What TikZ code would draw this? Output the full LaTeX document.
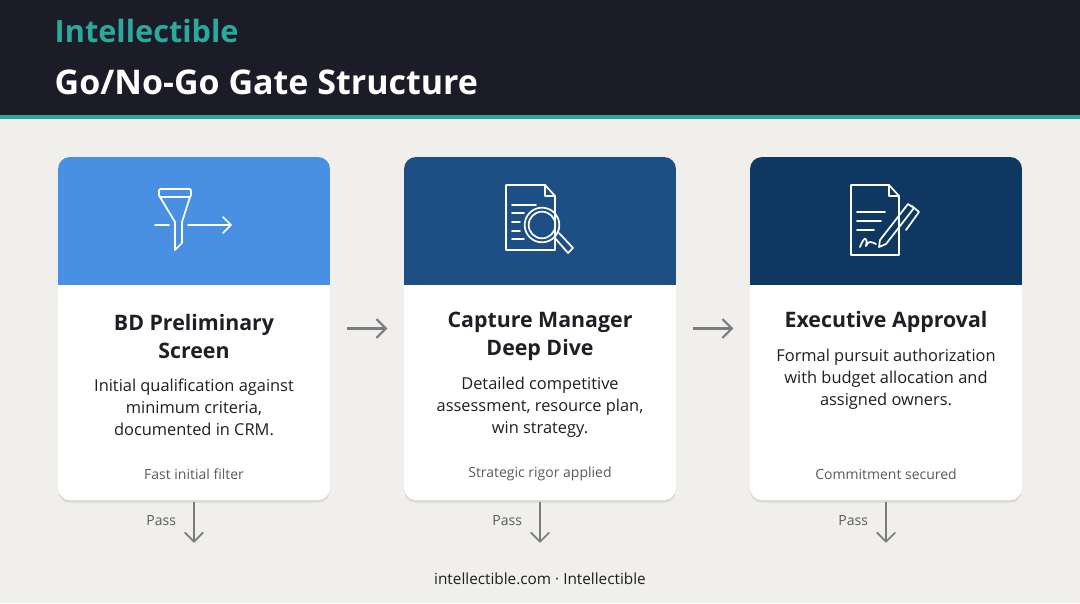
\documentclass[tikz,border=0pt]{standalone}
\usepackage{fontspec}
\setmainfont{Open Sans}
\usetikzlibrary{positioning,arrows.meta,shadows}
\definecolor{bgpaper}{HTML}{F0EFEB}
\definecolor{hdark}{HTML}{1B1C28}
\definecolor{tealc}{HTML}{2BA99A}
\definecolor{cardA}{HTML}{4A90E2}
\definecolor{cardB}{HTML}{1D4F85}
\definecolor{cardC}{HTML}{0E3762}
\definecolor{inkc}{HTML}{1E1E24}
\definecolor{greyc}{HTML}{5A5A60}
\tikzset{
  card/.style={draw=none, fill=white, rounded corners=9pt, minimum width=272*0.75pt,
    minimum height=343*0.75pt, drop shadow={opacity=0.18, shadow xshift=0pt, shadow yshift=-2pt}},
  ttl/.style={font=\bfseries\fontsize{16}{21}\selectfont, text=inkc, align=center},
  desc/.style={font=\fontsize{12.3}{16.5}\selectfont, text=inkc, align=center},
  foot/.style={font=\fontsize{10.5}{13}\selectfont, text=greyc},
  flow/.style={-{Straight Barb[length=7pt,width=14pt]}, line width=1.6pt, draw=greyc!80},
  icon/.style={draw=white, line width=1.3pt, line join=round, line cap=round}
}
\begin{document}
\begin{tikzpicture}[x=0.75pt,y=-0.75pt]
\useasboundingbox (0,0) rectangle (1080,603);
\fill[bgpaper] (0,0) rectangle (1080,603);
\fill[hdark] (0,0) rectangle (1080,115);
\fill[tealc] (0,115) rectangle (1080,119);
\node[anchor=west, text=tealc, font=\bfseries\fontsize{23}{26}\selectfont] (brand) at (50,31) {Intellectible};
\node[anchor=west, text=white, font=\bfseries\fontsize{25.5}{30}\selectfont] (title) at (50,82) {Go/No-Go Gate Structure};

% cards
\foreach \nm/\cx/\col in {screen/194/cardA, dive/540/cardB, approve/886/cardC}{
  \node[card] (\nm) at (\cx,328.5) {};
  \begin{scope}
    \clip[rounded corners=9pt] (\cx-136,157) rectangle (\cx+136,500);
    \fill[\col] (\cx-136,157) rectangle (\cx+136,285);
  \end{scope}
}

% texts
\node[ttl] (screen-t) at (194,336) {BD Preliminary\\Screen};
\node[desc] (screen-d) at (194,407) {Initial qualification against\\minimum criteria,\\documented in CRM.};
\node[foot] (screen-f) at (194,474) {Fast initial filter};
\node[ttl] (dive-t) at (540,336) {Capture Manager\\Deep Dive};
\node[desc] (dive-d) at (540,407) {Detailed competitive\\assessment, resource plan,\\win strategy.};
\node[foot] (dive-f) at (540,474) {Strategic rigor applied};
\node[ttl] (approve-t) at (886,322) {Executive Approval};
\node[desc] (approve-d) at (886,379) {Formal pursuit authorization\\with budget allocation and\\assigned owners.};
\node[foot] (approve-f) at (886,474) {Commitment secured};

% icons
\draw[icon, rounded corners=1pt] (159,189) rectangle (191,197);
\draw[icon] (160,197) -- (175,222) -- (175,250) -- (182,243) -- (182,222) -- (190,197);
\draw[icon] (155,225) -- (169,225) (188,225) -- (231,225) (223,217) -- (231,225) -- (223,233);
\draw[icon] (506,185) -- (545,185) -- (555,196) -- (555,250) -- (506,250) -- cycle;
\draw[icon] (545,185) -- (545,196) -- (555,196);
\draw[icon] (512,205) -- (536,205) (512,213) -- (524,213) (512,222) -- (520,222) (512,231) -- (520,231) (512,239) -- (524,239);
\draw[icon] (542,225) circle (13pt) (542,225) circle (10pt);
\draw[icon] (554,237) -- (568,253) -- (573,248) -- (559,233);
\draw[icon] (851,185) -- (889,185) -- (899,196) -- (899,255) -- (851,255) -- cycle;
\draw[icon] (889,185) -- (889,196) -- (899,196);
\draw[icon] (857,212) -- (885,212) (857,221) -- (881,221) (857,230) -- (874,230);
\draw[icon] (860,247) .. controls (864,236) and (868,236) .. (866,246) .. controls (868,240) and (872,242) .. (876,244);
\draw[icon] (880,240) -- (908,204) -- (914,208) -- (886,244) -- (879,247) -- cycle;
\draw[icon] (912,206) -- (919,212) -- (906,230);

% flow between cards
\draw[flow] (screen.east) ++(17,0) coordinate (a1) -- ++(40,0) coordinate (a2);
\draw[flow] (dive.east) ++(17,0) coordinate (b1) -- ++(40,0) coordinate (b2);
\foreach \nm in {screen,dive,approve}{
  \coordinate (\nm-p) at ([yshift=-32pt]\nm.south);
  \draw[flow, line width=1.3pt] ([yshift=-1.5pt]\nm.south) -- (\nm-p);
  \node[foot, anchor=east] (\nm-pass) at ([xshift=-10pt,yshift=-15pt]\nm.south) {Pass};
}
\node[font=\fontsize{11.5}{14}\selectfont, text=inkc] (site) at (540,579) {intellectible.com · Intellectible};
\end{tikzpicture}
\end{document}
